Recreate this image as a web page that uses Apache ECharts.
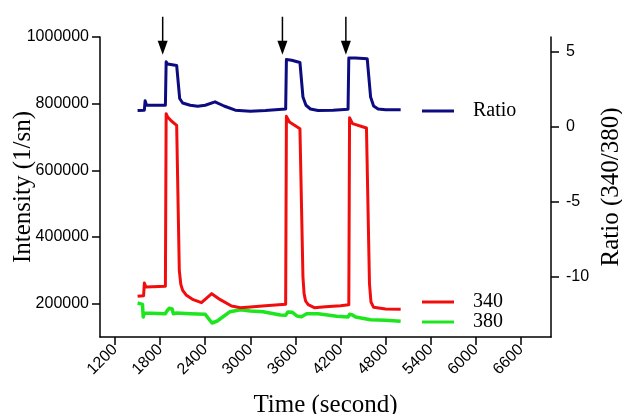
<!DOCTYPE html>
<html>
<head>
<meta charset="utf-8">
<script src="https://cdn.jsdelivr.net/npm/echarts@6/dist/echarts.min.js"></script>
<style>html,body{margin:0;padding:0;background:#fff;}#c{width:622px;height:414px;}</style>
</head>
<body>
<div id="c"></div>
<script>
// Time ticks (seconds)
const timeTicks = [1200, 1800, 2400, 3000, 3600, 4200, 4800, 5400, 6000, 6600];
const intensityTicks = [200000, 400000, 600000, 800000, 1000000];
const ratioTicks = [-10, -5, 0, 5];

// Ratio (340/380) trace
const ratioTime  = [1500, 1590, 1600, 1620, 1870, 1880, 1900, 2020, 2030, 2060, 2100, 2200, 2300, 2400, 2530, 2650, 2800, 3000, 3200, 3470, 3480, 3550, 3660, 3700, 3740, 3800, 3900, 4100, 4300, 4310, 4400, 4555, 4600, 4640, 4700, 4800, 5000];
const ratioValue = [1.10, 1.12, 1.75, 1.45, 1.45, 4.35, 4.20, 4.10, 4.05, 1.90, 1.60, 1.45, 1.38, 1.45, 1.68, 1.40, 1.12, 1.05, 1.10, 1.20, 4.50, 4.45, 4.30, 2.00, 1.45, 1.20, 1.10, 1.12, 1.18, 4.60, 4.60, 4.55, 2.00, 1.40, 1.20, 1.15, 1.15];

// 340 nm intensity trace
const i340Time  = [1500, 1580, 1590, 1610, 1870, 1880, 1900, 1950, 2020, 2055, 2075, 2100, 2150, 2240, 2350, 2486, 2600, 2750, 2870, 3000, 3200, 3470, 3480, 3520, 3660, 3700, 3715, 3735, 3770, 3850, 4000, 4200, 4310, 4320, 4360, 4545, 4585, 4605, 4640, 4800, 5000];
const i340Value = [222000, 224000, 262000, 250000, 252000, 770000, 760000, 748000, 735000, 300000, 258000, 240000, 225000, 212000, 203000, 230000, 212000, 193000, 188000, 190000, 194000, 198000, 762000, 745000, 725000, 280000, 230000, 208000, 197000, 188000, 191000, 194000, 197000, 758000, 740000, 727000, 260000, 205000, 189000, 184000, 183000];

// 380 nm intensity trace
const i380Time  = [1500, 1565, 1575, 1590, 1870, 1890, 1920, 1960, 1975, 2020, 2200, 2400, 2490, 2560, 2730, 2870, 3000, 3170, 3400, 3470, 3500, 3560, 3620, 3680, 3750, 3900, 4150, 4300, 4320, 4360, 4400, 4600, 4800, 5000];
const i380Value = [202000, 198000, 160000, 172000, 170000, 178000, 186000, 184000, 170000, 172000, 170000, 168000, 142000, 148000, 176000, 182000, 178000, 176000, 166000, 165000, 175000, 174000, 163000, 161000, 170000, 170000, 162000, 160000, 168000, 166000, 160000, 152000, 150000, 147000];

// Stimulus arrows (time, s)
const stimulusTimes = [1834, 3427, 4271];

const pairs = (xs, ys) => xs.map((x, i) => [x, ys[i]]);
const SANS = '"Liberation Sans", Arial, sans-serif';
const SERIF = '"Liberation Serif", "Times New Roman", serif';
const plain = v => String(v);

const chart = echarts.init(document.getElementById('c'), null, {renderer: 'canvas'});
const axisLine = {show: true, onZero: false, lineStyle: {color: '#000', width: 1.5}};
const axisTickBase = {show: true, inside: false, length: 8, lineStyle: {color: '#000', width: 1.5}};

chart.setOption({
  animation: false,
  backgroundColor: '#fff',
  grid: {left: 100, right: 71, top: 37, bottom: 77, containLabel: false, outerBoundsMode: 'none'},
  xAxis: {
    type: 'value', min: 1000, max: 7000,
    name: 'Time (second)', nameLocation: 'middle', nameGap: 56, nameMoveOverlap: false,
    nameTextStyle: {fontFamily: SERIF, fontSize: 25, color: '#000'},
    axisLine: axisLine,
    axisTick: Object.assign({customValues: timeTicks}, axisTickBase),
    axisLabel: {customValues: timeTicks, formatter: plain, rotate: 45, margin: 10, fontFamily: SANS, fontSize: 16, color: '#000'},
    splitLine: {show: false}
  },
  yAxis: [{
    type: 'value', position: 'left', min: 100000, max: 1000000,
    name: 'Intensity (1/sn)', nameLocation: 'middle', nameGap: 64, nameRotate: 90, nameMoveOverlap: false,
    nameTextStyle: {fontFamily: SERIF, fontSize: 25, color: '#000'},
    axisLine: axisLine,
    axisTick: Object.assign({customValues: intensityTicks}, axisTickBase),
    axisLabel: {customValues: intensityTicks, formatter: plain, margin: 11, fontFamily: SANS, fontSize: 16, color: '#000'},
    splitLine: {show: false}
  }, {
    type: 'value', position: 'right', min: -14, max: 6,
    name: 'Ratio (340/380)', nameLocation: 'middle', nameGap: 48, nameRotate: 90, nameMoveOverlap: false,
    nameTextStyle: {fontFamily: SERIF, fontSize: 25, color: '#000'},
    axisLine: axisLine,
    axisTick: Object.assign({customValues: ratioTicks}, axisTickBase),
    axisLabel: {customValues: ratioTicks, formatter: plain, margin: 15, fontFamily: SANS, fontSize: 16, color: '#000'},
    splitLine: {show: false}
  }],
  legend: [{
    data: ['Ratio'], left: 417, top: 96, icon: 'rect', itemWidth: 32, itemHeight: 3,
    textStyle: {fontFamily: SERIF, fontSize: 20, color: '#000', padding: [0, 0, 0, 14]},
    selectedMode: false
  }, {
    data: ['340', '380'], left: 417, top: 287, orient: 'vertical', itemGap: 0,
    icon: 'rect', itemWidth: 32, itemHeight: 3,
    textStyle: {fontFamily: SERIF, fontSize: 20, lineHeight: 20, color: '#000', padding: [0, 0, 0, 14]},
    selectedMode: false
  }],
  series: [{
    name: '380', type: 'line', yAxisIndex: 0, showSymbol: false, symbol: 'none',
    data: pairs(i380Time, i380Value), color: '#1ee61e',
    lineStyle: {width: 3.5, color: '#1ee61e', join: 'round'}
  }, {
    name: '340', type: 'line', yAxisIndex: 0, showSymbol: false, symbol: 'none',
    data: pairs(i340Time, i340Value), color: '#f20d0d',
    lineStyle: {width: 3, color: '#f20d0d', join: 'round'}
  }, {
    name: 'Ratio', type: 'line', yAxisIndex: 1, showSymbol: false, symbol: 'none',
    data: pairs(ratioTime, ratioValue), color: '#0c0c80',
    lineStyle: {width: 3, color: '#0c0c80', join: 'round'}
  }, {
    name: 'stimulus', type: 'custom', yAxisIndex: 1, clip: false, silent: true,
    data: stimulusTimes.map(t => [t, 4.82]),
    renderItem: function (params, api) {
      const t = api.value(0);
      const top = api.coord([t, 7.35]);
      const tip = api.coord([t, api.value(1)]);
      return {
        type: 'group',
        children: [{
          type: 'line',
          shape: {x1: top[0], y1: top[1], x2: tip[0], y2: tip[1] - 10},
          style: {stroke: '#000', lineWidth: 1.5}
        }, {
          type: 'polygon',
          shape: {points: [[tip[0] - 5, tip[1] - 14], [tip[0] + 5, tip[1] - 14], [tip[0], tip[1]]]},
          style: {fill: '#000'}
        }]
      };
    }
  }]
});
</script>
</body>
</html>
